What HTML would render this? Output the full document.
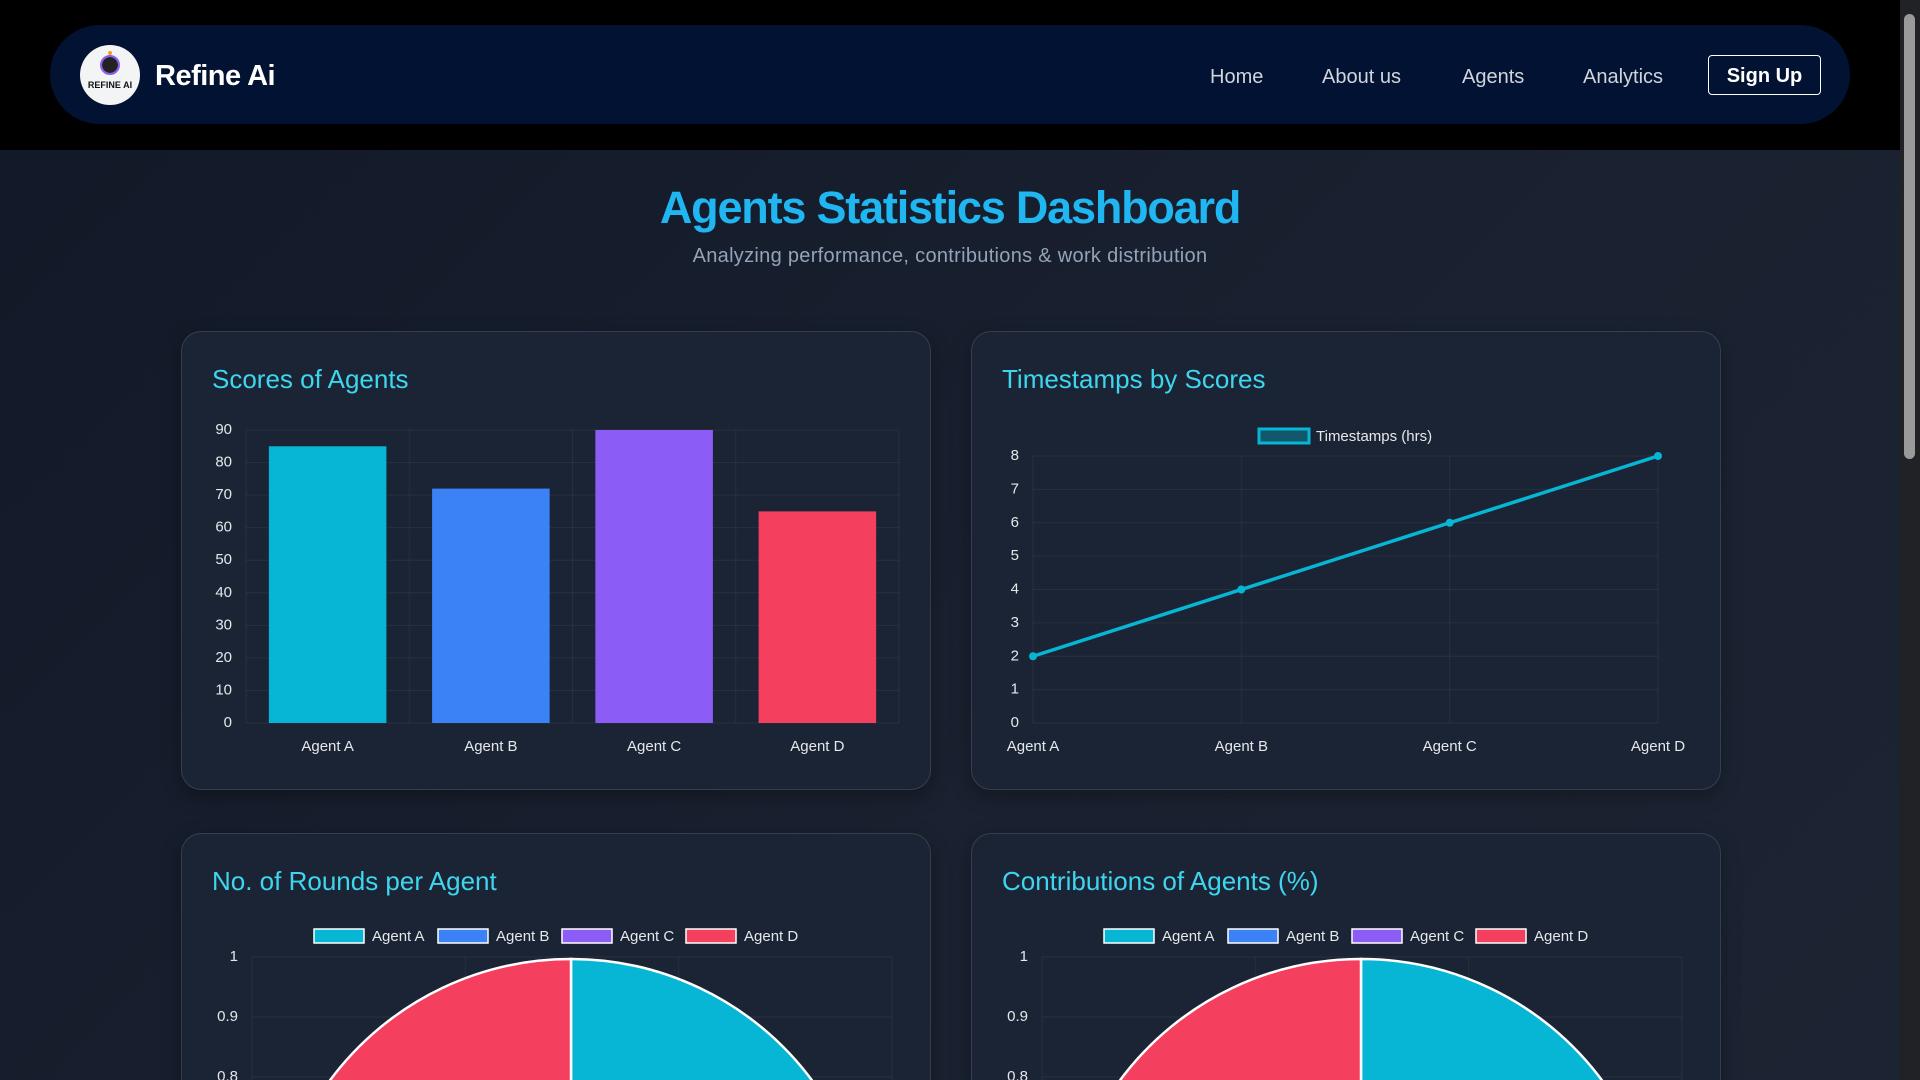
<!DOCTYPE html>
<html><head><meta charset="utf-8">
<style>
*{box-sizing:border-box;margin:0;padding:0}
html,body{width:1920px;height:1080px;overflow:hidden}
body{background:linear-gradient(135deg,#111827 0%,#1a2130 60%,#1c2433 100%);font-family:"Liberation Sans",sans-serif;position:relative}
.topbar{position:absolute;left:0;top:0;width:1900px;height:150px;background:#000}
.nav{position:absolute;left:50px;top:25px;width:1800px;height:99px;border-radius:50px;background:#021232}
.logo{position:absolute;left:80px;top:45px;width:60px;height:60px;border-radius:50%;background:#f3f4f6;overflow:hidden}
.brand{position:absolute;left:155px;top:60px;font-size:29px;font-weight:bold;color:#fff;letter-spacing:-0.5px}
.nl{position:absolute;top:66px;font-size:20px;color:#d1d5db}
.signup{position:absolute;left:1708px;top:55px;width:113px;height:40px;border:1.5px solid #fff;border-radius:4px;color:#fff;font-size:20px;font-weight:bold;text-align:center;line-height:40px}
h1{position:absolute;left:0;width:1900px;top:182px;text-align:center;font-size:45px;color:#1fb6f2;font-weight:bold;letter-spacing:-1.2px}
.sub{position:absolute;left:0;width:1900px;top:245px;text-align:center;font-size:20px;color:#94a3b8;letter-spacing:0.3px}
.card{position:absolute;width:750px;background:#1b2434;border:1px solid rgba(255,255,255,0.12);border-radius:20px;box-shadow:0 6px 20px rgba(0,0,0,0.3)}
.ct{position:absolute;left:30px;top:32px;font-size:26px;color:#3ed6ee}
.card svg{position:absolute;left:0;top:0}
.sb{position:absolute;left:1900px;top:0;width:20px;height:1080px;background:#202226}
.thumb{position:absolute;left:1904px;top:14px;width:11px;height:445px;border-radius:6px;background:#9a9a9a}
</style></head><body>
<div class="topbar"></div>
<div class="nav"></div>
<div class="logo"><svg width="60" height="60"><circle cx="30" cy="20" r="8" fill="#222"/><circle cx="30" cy="20" r="9" fill="none" stroke="#8b5cf6" stroke-width="2"/><circle cx="30" cy="8" r="2" fill="#f59e0b"/><text x="30" y="43" font-size="9" font-weight="bold" text-anchor="middle" fill="#111">REFINE AI</text></svg></div>
<div class="brand">Refine Ai</div>
<div class="nl" style="left:1210px">Home</div>
<div class="nl" style="left:1322px">About us</div>
<div class="nl" style="left:1462px">Agents</div>
<div class="nl" style="left:1583px">Analytics</div>
<div class="signup">Sign Up</div>
<h1>Agents Statistics Dashboard</h1>
<div class="sub">Analyzing performance, contributions &amp; work distribution</div>

<div class="card" style="left:181px;top:331px;height:459px">
<div class="ct">Scores of Agents</div>
<svg id="bar" width="750" height="459"></svg></div>
<div class="card" style="left:971px;top:331px;height:459px">
<div class="ct">Timestamps by Scores</div>
<svg id="line" width="750" height="459"></svg></div>
<div class="card" style="left:181px;top:833px;height:459px">
<div class="ct">No. of Rounds per Agent</div>
<svg id="pie1" width="750" height="459"></svg></div>
<div class="card" style="left:971px;top:833px;height:459px">
<div class="ct">Contributions of Agents (%)</div>
<svg id="pie2" width="750" height="459"></svg></div>
<div class="sb"></div>
<div class="thumb"></div>

<script>
const categories=["Agent A","Agent B","Agent C","Agent D"];
const colors=["#06b6d4","#3b82f6","#8b5cf6","#f43f5e"];
const scores=[85,72,90,65];
const scoreTicks=[0,10,20,30,40,50,60,70,80,90];
const timestamps=[2,4,6,8];
const timeTicks=[0,1,2,3,4,5,6,7,8];
const rounds=[3,2,2,3];
const contributions=[30,20,20,30];
const pieTicks=[1,0.9,0.8];
const NS="http://www.w3.org/2000/svg";
function mk(svg,tag,at,txt){const e=document.createElementNS(NS,tag);for(const k in at)e.setAttribute(k,at[k]);if(txt!==undefined)e.textContent=txt;svg.appendChild(e);return e;}
const TXT={fill:"#e5e7eb","font-size":"15","font-family":"Liberation Sans, sans-serif"};
(function(){const s=document.getElementById('bar');const L=64,R=717,Y0=391,Y1=98,max=90;
const y=v=>Y0-(v/max)*(Y0-Y1);const bw=(R-L)/categories.length;
scoreTicks.forEach(t=>{const g=mk(s,'line',{x1:L,x2:R,y1:y(t),y2:y(t),stroke:"rgba(255,255,255,0.06)"});
const tx=mk(s,'text',Object.assign({x:L-14,y:y(t)+4,"text-anchor":"end"},TXT),t);});
for(let i=0;i<=categories.length;i++)mk(s,'line',{x1:L+i*bw,x2:L+i*bw,y1:Y1,y2:Y0,stroke:"rgba(255,255,255,0.05)"});
categories.forEach((c,i)=>{const cx=L+bw*(i+0.5),w=bw*0.72;
const b=mk(s,'rect',{x:cx-w/2,y:y(scores[i]),width:w,height:Y0-y(scores[i]),fill:colors[i]});
const t=mk(s,'text',Object.assign({x:cx,y:Y0+28,"text-anchor":"middle"},TXT),c);});})();
(function(){const s=document.getElementById('line');const L=61,R=686,Y0=391,Y1=124,max=8;
const y=v=>Y0-(v/max)*(Y0-Y1);const x=i=>L+i*(R-L)/(categories.length-1);
timeTicks.forEach(t=>{mk(s,'line',{x1:L,x2:R,y1:y(t),y2:y(t),stroke:"rgba(255,255,255,0.06)"});
const tx=mk(s,'text',Object.assign({x:L-14,y:y(t)+4,"text-anchor":"end"},TXT),t);});
categories.forEach((c,i)=>{mk(s,'line',{x1:x(i),x2:x(i),y1:Y1,y2:Y0,stroke:"rgba(255,255,255,0.05)"});
const t=mk(s,'text',Object.assign({x:x(i),y:Y0+28,"text-anchor":"middle"},TXT),c);});
const lg=mk(s,'rect',{x:287,y:97,width:50,height:14,fill:"rgba(6,182,212,0.35)",stroke:"#06b6d4","stroke-width":3});
const lt=mk(s,'text',Object.assign({x:344,y:109},TXT),"Timestamps (hrs)");
const p=mk(s,'polyline',{points:timestamps.map((v,i)=>x(i)+","+y(v)).join(" "),fill:"none",stroke:"#06b6d4","stroke-width":3.5});
timestamps.forEach((v,i)=>{const c=mk(s,'circle',{cx:x(i),cy:y(v),r:4,fill:"#06b6d4"});});})();
function pie(id,vals){const s=document.getElementById(id);const L=70,R=710,T=123;const y=v=>T+(1-v)*600;
pieTicks.forEach(t=>{mk(s,'line',{x1:L,x2:R,y1:y(t),y2:y(t),stroke:"rgba(255,255,255,0.06)"});
const tx=mk(s,'text',Object.assign({x:L-14,y:y(t)+4,"text-anchor":"end"},TXT),t);});
[L,L+(R-L)/3,L+2*(R-L)/3,R].forEach(xx=>mk(s,'line',{x1:xx,x2:xx,y1:T,y2:460,stroke:"rgba(255,255,255,0.05)"}));
const lx=[132,256,380,504];
categories.forEach((c,i)=>{const r=mk(s,'rect',{x:lx[i],y:95,width:50,height:14,fill:colors[i],stroke:"#fff","stroke-width":1.5});
const t=mk(s,'text',Object.assign({x:lx[i]+58,y:107},TXT),c);});
const rad=300,cx=389,cy=T+2+rad;const tot=vals.reduce((a,b)=>a+b,0);let a=-Math.PI/2;
vals.forEach((v,i)=>{const a2=a+v/tot*2*Math.PI;const big=(a2-a)>Math.PI?1:0;
const d=`M${cx},${cy} L${cx+rad*Math.cos(a)},${cy+rad*Math.sin(a)} A${rad},${rad} 0 ${big} 1 ${cx+rad*Math.cos(a2)},${cy+rad*Math.sin(a2)} Z`;
const p=mk(s,'path',{d:d,fill:colors[i],stroke:"#fff","stroke-width":2.5});a=a2;});}
pie('pie1',rounds);pie('pie2',contributions);
</script>
</body></html>
